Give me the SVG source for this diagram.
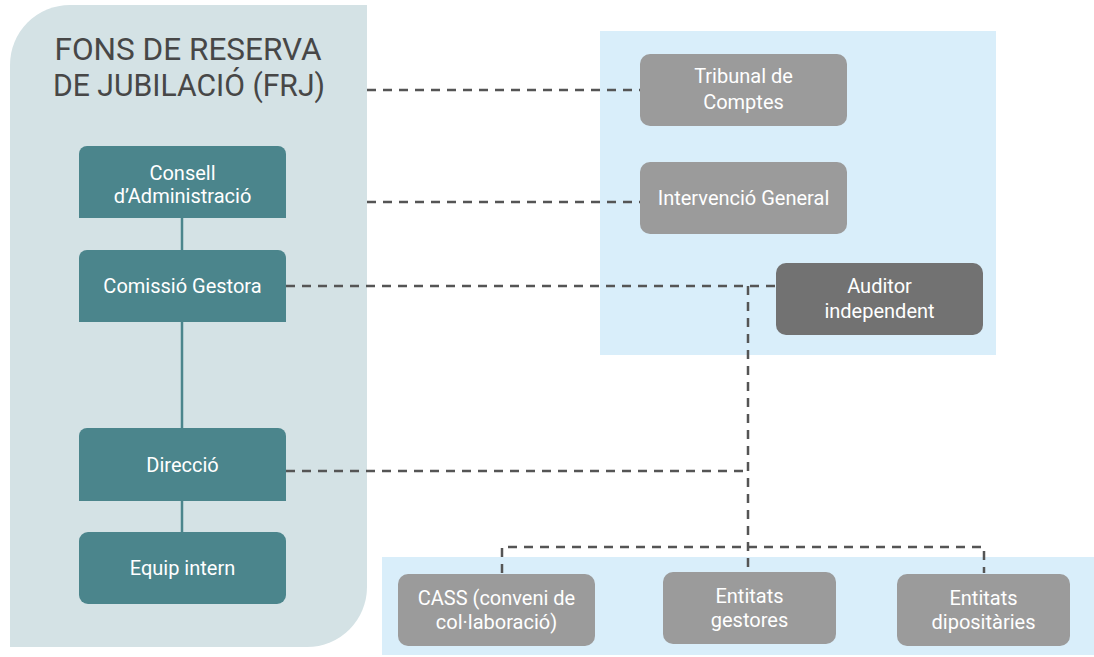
<svg xmlns="http://www.w3.org/2000/svg" width="1094" height="657" viewBox="0 0 1094 657">
<style>
.teal{fill:#4b858c}
.gray{fill:#9b9b9b}
.dark{fill:#727272}
.lbl{font-family:Roboto,"Liberation Sans",sans-serif;font-size:20px;fill:#ffffff;text-anchor:middle}
.title{font-family:Roboto,"Liberation Sans",sans-serif;font-size:30.5px;fill:#474747;text-anchor:middle}
.dash{stroke:#555555;stroke-width:2.5;fill:none;stroke-dasharray:9 7}
.solid{stroke:#4b858c;stroke-width:2.5;fill:none}
</style>
<rect width="1094" height="657" fill="#ffffff"/>
<g id="panels">
<path d="M10,65 A60,60 0 0 1 70,5 H367 V587 A60,60 0 0 1 307,647 H10 Z" fill="#d4e2e5"/>
<rect x="600" y="31" width="396" height="324" fill="#d9eefa"/>
<rect x="382" y="557" width="712" height="98" fill="#d9eefa"/>
</g>
<g id="title">
<text class="title" x="188" y="60" textLength="267" lengthAdjust="spacingAndGlyphs">FONS DE RESERVA</text>
<text class="title" x="189" y="96" textLength="272" lengthAdjust="spacingAndGlyphs">DE JUBILACIÓ (FRJ)</text>
</g>
<g id="connectors">
<line class="solid" x1="182" y1="218" x2="182" y2="250"/>
<line class="solid" x1="182" y1="322" x2="182" y2="428"/>
<line class="solid" x1="182" y1="501" x2="182" y2="532"/>
<line class="dash" x1="367" y1="90" x2="640" y2="90"/>
<line class="dash" x1="367" y1="202" x2="640" y2="202"/>
<line class="dash" x1="286" y1="286" x2="776" y2="286"/>
<line class="dash" x1="286" y1="471" x2="748" y2="471"/>
<line class="dash" x1="748" y1="286" x2="748" y2="572"/>
<path class="dash" d="M502,573 V547 H984 V573"/>
</g>
<g id="consell">
<path class="teal" d="M79,218 V154 A8,8 0 0 1 87,146 H278 A8,8 0 0 1 286,154 V218 Z"/>
<text class="lbl" x="182.5" y="180">Consell</text>
<text class="lbl" x="182.5" y="203">d’Administració</text>
</g>
<g id="comissio">
<path class="teal" d="M79,322 V258 A8,8 0 0 1 87,250 H278 A8,8 0 0 1 286,258 V322 Z"/>
<text class="lbl" x="182.5" y="293">Comissió Gestora</text>
</g>
<g id="direccio">
<path class="teal" d="M79,501 V436 A8,8 0 0 1 87,428 H278 A8,8 0 0 1 286,436 V501 Z"/>
<text class="lbl" x="182.5" y="472">Direcció</text>
</g>
<g id="equip">
<rect class="teal" x="79" y="532" width="207" height="72" rx="9"/>
<text class="lbl" x="182.5" y="575">Equip intern</text>
</g>
<g id="tribunal">
<rect class="gray" x="640" y="54" width="207" height="72" rx="10"/>
<text class="lbl" x="743.5" y="83">Tribunal de</text>
<text class="lbl" x="743.5" y="109">Comptes</text>
</g>
<g id="intervencio">
<rect class="gray" x="640" y="162" width="207" height="72" rx="10"/>
<text class="lbl" x="743.5" y="205">Intervenció General</text>
</g>
<g id="auditor">
<rect class="dark" x="776" y="263" width="207" height="72" rx="10"/>
<text class="lbl" x="879.5" y="293">Auditor</text>
<text class="lbl" x="879.5" y="318">independent</text>
</g>
<g id="cass">
<rect class="gray" x="398" y="574" width="197" height="72" rx="10"/>
<text class="lbl" x="496.5" y="605">CASS (conveni de</text>
<text class="lbl" x="496.5" y="629">col·laboració)</text>
</g>
<g id="gestores">
<rect class="gray" x="663" y="572" width="173" height="72" rx="10"/>
<text class="lbl" x="749.5" y="603">Entitats</text>
<text class="lbl" x="749.5" y="627">gestores</text>
</g>
<g id="dipositaries">
<rect class="gray" x="897" y="574" width="173" height="72" rx="10"/>
<text class="lbl" x="983.5" y="605">Entitats</text>
<text class="lbl" x="983.5" y="629">dipositàries</text>
</g>
</svg>
